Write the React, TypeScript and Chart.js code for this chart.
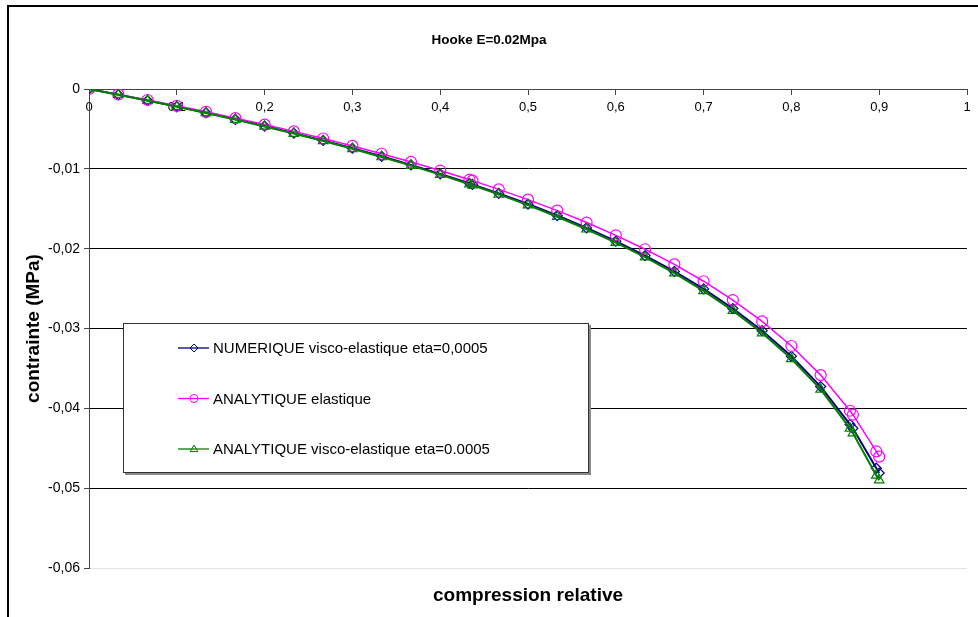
import React, { useEffect, useRef } from 'react';
import { Chart, registerables } from 'chart.js';

Chart.register(...registerables);

// compression relative (x)
const compression = [
  0, 0.0333, 0.0667, 0.1, 0.1333, 0.1667, 0.2, 0.2333, 0.2667, 0.3, 0.3333, 0.3667, 0.4, 0.4333,
  0.4367, 0.4667, 0.5, 0.5333, 0.5667, 0.6, 0.6333, 0.6667, 0.7, 0.7333, 0.7667, 0.8, 0.8333,
  0.8667, 0.87, 0.8967, 0.9,
];

// contrainte (MPa)
const numerique = [
  0, -0.000705, -0.00144, -0.00219, -0.00298, -0.0038, -0.00464, -0.00553, -0.00645, -0.00742,
  -0.00843, -0.0095, -0.01063, -0.01181, -0.01194, -0.01307, -0.01441, -0.01585, -0.0174, -0.01906,
  -0.02087, -0.02285, -0.02504, -0.0275, -0.03027, -0.03348, -0.03727, -0.042, -0.0425, -0.0475,
  -0.0481,
];

const elastique = [
  0, -0.000678, -0.00138, -0.00211, -0.00286, -0.00365, -0.00446, -0.00531, -0.0062, -0.00713,
  -0.00811, -0.00914, -0.01022, -0.01136, -0.01148, -0.01257, -0.01386, -0.01524, -0.01673, -0.01833,
  -0.02007, -0.02197, -0.02408, -0.02644, -0.02911, -0.03219, -0.03584, -0.0403, -0.0408, -0.0454,
  -0.04605,
];

const viscoAnalytique = [
  0, -0.000712, -0.00145, -0.00221, -0.003, -0.00383, -0.00469, -0.00558, -0.00651, -0.00749,
  -0.00852, -0.0096, -0.01073, -0.01193, -0.01205, -0.0132, -0.01455, -0.016, -0.01757, -0.01925,
  -0.02107, -0.02307, -0.02528, -0.02776, -0.03057, -0.0338, -0.03763, -0.0425, -0.0431, -0.0484,
  -0.049,
];

const seriesLabels = [
  'NUMERIQUE visco-elastique eta=0,0005',
  'ANALYTIQUE elastique',
  'ANALYTIQUE visco-elastique eta=0.0005',
];
const seriesColors = ['#000080', '#FF00FF', '#008000'];
const seriesMarkers = ['rectRot', 'circle', 'triangle'];

const chartTitle = 'Hooke E=0.02Mpa';
const xTitle = 'compression relative';
const yTitle = 'contrainte (MPa)';

const FONT = '"Liberation Sans", Arial, sans-serif';

const fmt = (v: number) => {
  if (Math.abs(v) < 1e-9) return '0';
  return String(Math.round(v * 100) / 100).replace('.', ',');
};

function drawMarker(ctx: CanvasRenderingContext2D, style: string, x: number, y: number, r: number) {
  ctx.beginPath();
  if (style === 'circle') {
    ctx.arc(x, y, r, 0, Math.PI * 2);
  } else if (style === 'rectRot') {
    ctx.moveTo(x, y - r);
    ctx.lineTo(x + r, y);
    ctx.lineTo(x, y + r);
    ctx.lineTo(x - r, y);
    ctx.closePath();
  } else {
    ctx.moveTo(x, y - r);
    ctx.lineTo(x + r * 0.95, y + r * 0.65);
    ctx.lineTo(x - r * 0.95, y + r * 0.65);
    ctx.closePath();
  }
  ctx.stroke();
}

const framePlugin = {
  id: 'frame',
  afterDraw(chart: any) {
    const ctx = chart.ctx as CanvasRenderingContext2D;
    ctx.save();
    ctx.fillStyle = '#000';
    ctx.fillRect(7, 5, 2, chart.height - 5);
    ctx.fillRect(7, 5, chart.width - 7, 2);
    ctx.restore();
  },
};

const boxLegendPlugin = {
  id: 'boxLegend',
  afterDatasetsDraw(chart: any) {
    const ctx = chart.ctx as CanvasRenderingContext2D;
    const bx = 123;
    const by = 323;
    const bw = 466;
    const bh = 150;
    ctx.save();
    ctx.fillStyle = '#8a8a8a';
    ctx.fillRect(bx + 2, by + 2, bw, bh);
    ctx.fillStyle = '#fff';
    ctx.fillRect(bx, by, bw, bh);
    ctx.strokeStyle = '#333';
    ctx.lineWidth = 1;
    ctx.strokeRect(bx + 0.5, by + 0.5, bw - 1, bh - 1);
    chart.data.datasets.forEach((ds: any, i: number) => {
      const y = 348 + i * 50.5;
      ctx.strokeStyle = ds.borderColor;
      ctx.lineWidth = 1.3;
      ctx.beginPath();
      ctx.moveTo(178, y);
      ctx.lineTo(209, y);
      ctx.stroke();
      ctx.fillStyle = '#fff';
      ctx.lineWidth = 1;
      drawMarker(ctx, ds.pointStyle, 194, y, 4);
      ctx.fillStyle = '#000';
      ctx.font = `15px ${FONT}`;
      ctx.textBaseline = 'middle';
      ctx.textAlign = 'left';
      ctx.fillText(ds.label, 213, y + 1);
    });
    ctx.restore();
  },
};

export default function App() {
  const canvasRef = useRef<HTMLCanvasElement | null>(null);

  useEffect(() => {
    if (!canvasRef.current) return;
    const seriesValues = [numerique, elastique, viscoAnalytique];
    const chart = new Chart(canvasRef.current, {
      type: 'line',
      data: {
        datasets: seriesValues.map((vals, i) => ({
          label: seriesLabels[i],
          data: compression.map((x, j) => ({ x, y: vals[j] })),
          borderColor: seriesColors[i],
          backgroundColor: 'rgba(0,0,0,0)',
          pointStyle: seriesMarkers[i] as any,
          pointRadius: i === 0 ? 5 : 5.5,
          pointBorderColor: seriesColors[i],
          pointBackgroundColor: 'rgba(0,0,0,0)',
          pointBorderWidth: 1.2,
          borderWidth: i === 1 ? 1.5 : 2,
          tension: 0,
          fill: false,
          order: 3 - i,
        })),
      },
      options: {
        animation: false,
        responsive: false,
        devicePixelRatio: 1,
        layout: { padding: { left: 11, right: 11, top: 0, bottom: 0 } },
        plugins: {
          legend: { display: false },
          tooltip: { enabled: false },
          title: {
            display: true,
            text: chartTitle,
            color: '#000',
            font: { family: FONT, size: 13.5, weight: 'bold' },
            padding: { top: 32, bottom: 40.8 },
          },
        },
        scales: {
          x: {
            type: 'linear',
            position: { y: 0 } as any,
            min: 0,
            max: 1,
            ticks: {
              stepSize: 0.1,
              color: '#000',
              font: { family: FONT, size: 13 },
              padding: 6,
              maxRotation: 0,
              autoSkip: false,
              callback: (v: any) => fmt(Number(v)),
            },
            grid: {
              drawOnChartArea: false,
              drawTicks: true,
              tickLength: 5,
              tickColor: '#444',
            },
            border: { display: true, color: '#444', width: 1 },
          },
          x2: {
            type: 'linear',
            position: 'bottom',
            min: 0,
            max: 1,
            ticks: { display: false },
            grid: { display: false },
            border: { display: false },
            title: {
              display: true,
              text: xTitle,
              color: '#000',
              font: { family: FONT, size: 19, weight: 'bold' },
              padding: { top: 0, bottom: 10 },
            },
            afterFit: (scale: any) => {
              scale.height = 49;
            },
          },
          y: {
            type: 'linear',
            position: 'left',
            min: -0.06,
            max: 0,
            ticks: {
              stepSize: 0.01,
              color: '#000',
              font: { family: FONT, size: 14 },
              padding: 4,
              callback: (v: any) => fmt(Number(v)),
            },
            grid: {
              color: (ctx: any) => {
                const v = ctx.tick ? ctx.tick.value : 0;
                if (Math.abs(v + 0.06) < 1e-6) return '#e2e2e2';
                if (Math.abs(v) < 1e-6) return 'rgba(0,0,0,0)';
                return '#000';
              },
              lineWidth: 1,
              drawTicks: true,
              tickLength: 5,
              tickColor: '#444',
            },
            border: { display: true, color: '#444', width: 1 },
            title: {
              display: true,
              text: yTitle,
              color: '#000',
              font: { family: FONT, size: 19, weight: 'bold' },
              padding: { top: 11, bottom: 0 },
            },
            afterFit: (scale: any) => {
              scale.width = 78;
            },
          },
        },
      },
      plugins: [boxLegendPlugin, framePlugin],
    });
    return () => chart.destroy();
  }, []);

  return (
    <div style={{ position: 'absolute', left: 0, top: 0, width: 978, height: 617, background: '#fff' }}>
      <canvas ref={canvasRef} width={978} height={617} style={{ display: 'block' }} />
    </div>
  );
}
